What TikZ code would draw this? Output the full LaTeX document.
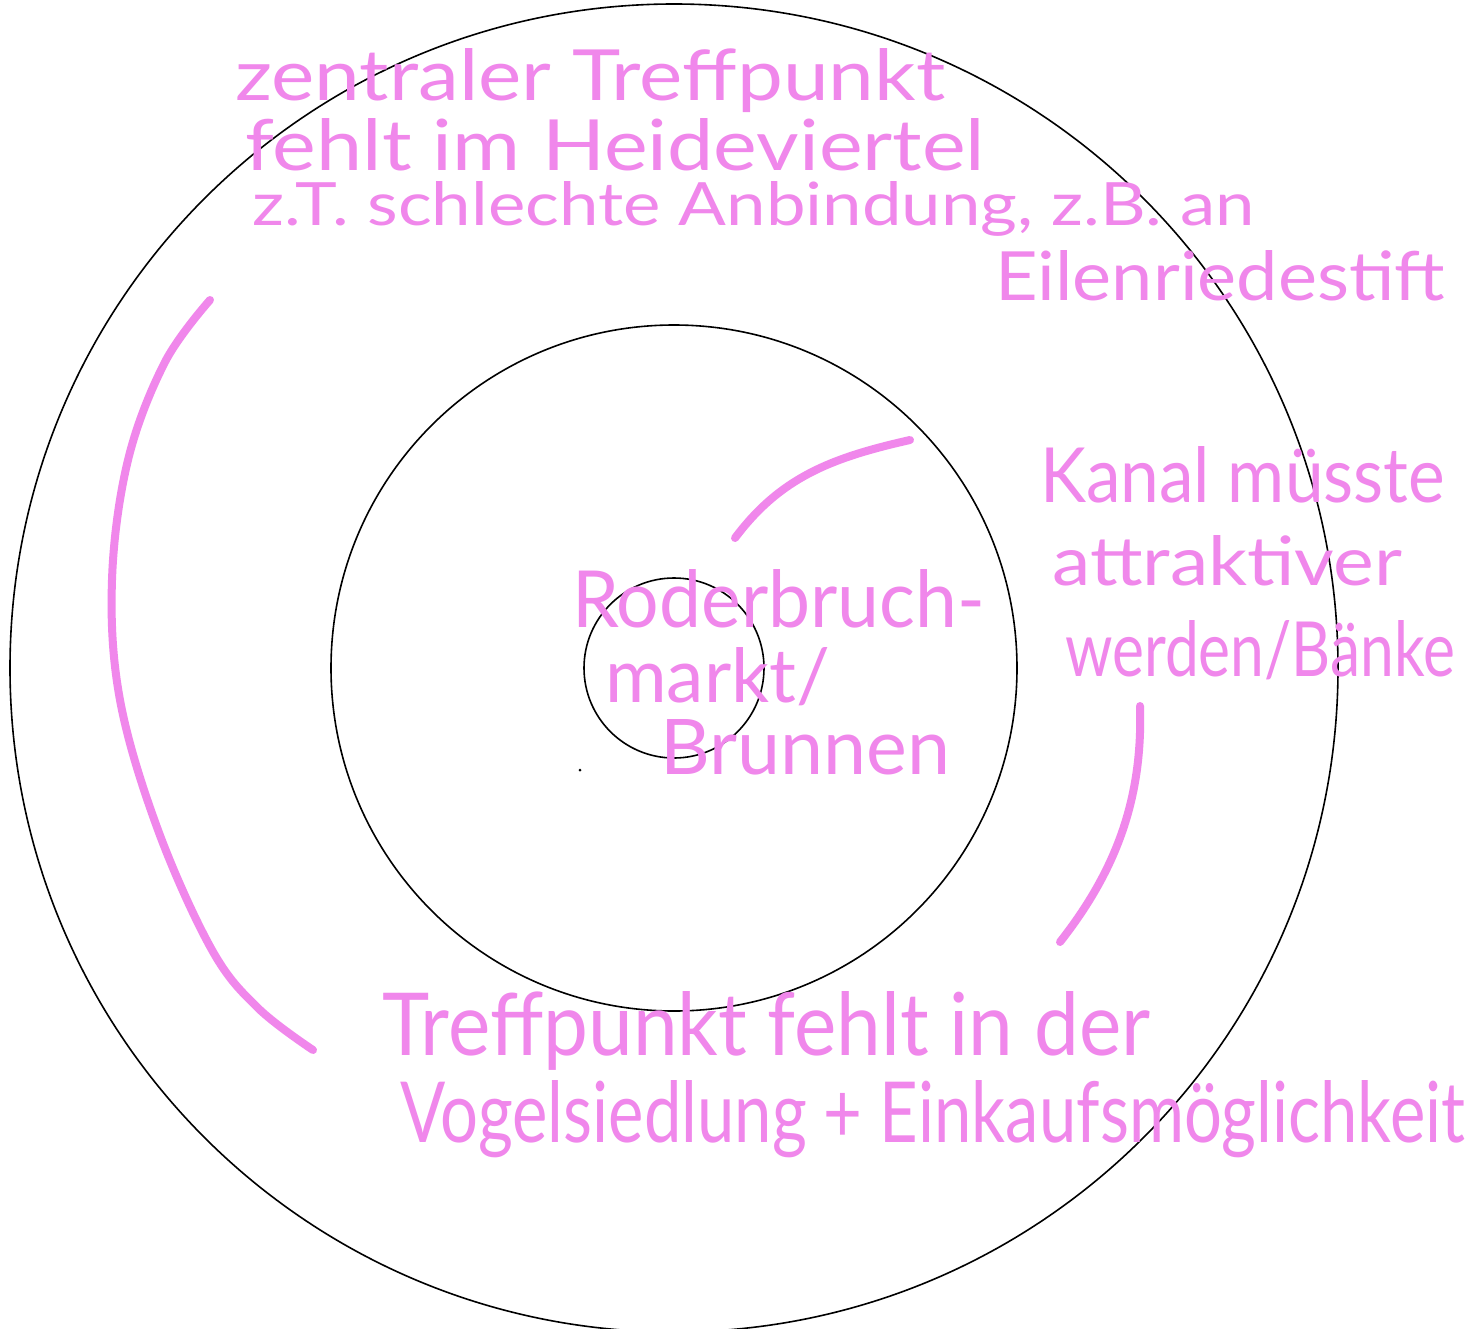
\documentclass[tikz,border=0pt]{standalone}
\usepackage{fontspec}
\usepackage{graphicx}
\setmainfont{Lato}
\definecolor{marker}{RGB}{240,135,235}
\newcommand{\fitwh}[3]{\resizebox{#1}{#2}{#3}}
\tikzset{
  hw/.style={text=marker, anchor=base west, inner sep=0pt, font=\fontsize{60}{72}\selectfont},
  ring/.style={draw=black, line width=1.6pt},
  pen/.style={draw=marker, line width=8pt, line cap=round, line join=round}
}
\begin{document}
\begin{tikzpicture}[x=1pt,y=-1pt]
\useasboundingbox (0,0) rectangle (1469,1328);
\fill[white] (0,0) rectangle (1469,1328);
% rings
\draw[ring] (674,668) circle[radius=664];
\draw[ring] (674,668) circle[radius=343];
\draw[ring] (674,668) circle[radius=90];
\fill[black] (580,770) circle[radius=1.5];
% top block
\node[hw] (t1) at (235,100) {\fitwh{710pt}{52pt}{zentraler Treffpunkt}};
\node[hw] (t2) at (245,170) {\fitwh{740pt}{52pt}{fehlt im Heideviertel}};
\node[hw] (t3) at (252,225) {\fitwh{1003pt}{44pt}{z.T. schlechte Anbindung, z.B. an}};
\node[hw] (t4) at (995,300) {\fitwh{450pt}{50pt}{Eilenriedestift}};
% right block
\node[hw] (k1) at (1040,502) {\fitwh{405pt}{56pt}{Kanal müsste}};
\node[hw] (k2) at (1052,585) {\fitwh{350pt}{50pt}{attraktiver}};
\node[hw] (k3) at (1065,676) {\fitwh{390pt}{56pt}{werden/Bänke}};
% centre
\node[hw] (c1) at (572,627) {\fitwh{413pt}{58pt}{Roderbruch-}};
\node[hw] (c2) at (605,702) {\fitwh{225pt}{55pt}{markt/}};
\node[hw] (c3) at (660,774) {\fitwh{290pt}{55pt}{Brunnen}};
% bottom
\node[hw] (b1) at (382,1055) {\fitwh{768pt}{64pt}{Treffpunkt fehlt in der}};
\node[hw] (b2) at (400,1142) {\fitwh{1065pt}{62pt}{Vogelsiedlung + Einkaufsmöglichkeit}};
% pen strokes
\draw[pen] plot[smooth, tension=0.6] coordinates {(210,300) (165,362) (128,460) (112,580) (120,700) (158,830) (212,950) (258,1008) (313,1050)};
\draw[pen] (735,538) .. controls (780,478) and (830,458) .. (910,440);
\draw[pen] (1140,706) .. controls (1143,800) and (1115,872) .. (1060,942);
\end{tikzpicture}
\end{document}
